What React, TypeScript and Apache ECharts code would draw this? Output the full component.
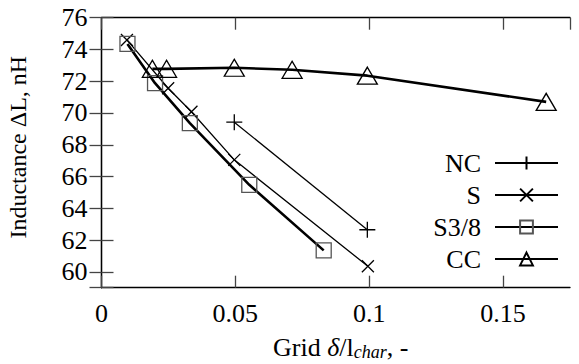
import React, { useEffect, useRef } from "react";
import * as echarts from "echarts";

const seriesNames = ["NC", "S", "S3/8", "CC"];
const ncData: number[][] = [
  [0.0496, 69.42],
  [0.0993, 62.65],
];
const sData: number[][] = [
  [0.0095, 74.6],
  [0.0249, 71.56],
  [0.0336, 70.08],
  [0.0496, 67.05],
  [0.0995, 60.35],
];
const s38Data: number[][] = [
  [0.0097, 74.35],
  [0.0200, 71.88],
  [0.0330, 69.36],
  [0.0552, 65.48],
  [0.0830, 61.35],
];
const ccData: number[][] = [
  [0.0190, 72.78],
  [0.0243, 72.78],
  [0.0496, 72.85],
  [0.0712, 72.72],
  [0.0993, 72.35],
  [0.1661, 70.7],
];
const xTicks = [0, 0.05, 0.1, 0.15];
const yTicks = [60, 62, 64, 66, 68, 70, 72, 74, 76];

const FONT = "'Liberation Serif', 'Times New Roman', serif";

const PLUS = "path://M0,5L10,5M5,0L5,10";
const CROSS = "path://M0,0L10,10M10,0L0,10";
const SQUARE = "path://M0,0L10,0L10,10L0,10Z";
const TRI = "path://M5,0L10,9L0,9Z";

export default function App() {
  const ref = useRef<HTMLDivElement>(null);
  useEffect(() => {
    if (!ref.current) return;
    const chart = echarts.init(ref.current, undefined, { renderer: "svg" });
    const mkSeries = (
      name: string,
      data: number[][],
      symbol: string,
      size: number | number[],
      lw: number,
      mcolor: string
    ) => ({
      name,
      type: "line",
      data,
      symbol,
      symbolSize: size,
      showAllSymbol: true,
      lineStyle: { color: "#000", width: lw },
      itemStyle: { color: "rgba(0,0,0,0)", borderColor: mcolor, borderWidth: 1.3 },
      emphasis: { disabled: true },
    });
    const commonAxisLine = { show: true, lineStyle: { color: "#000", width: 1.3 } };
    const tickStyle = { show: true, inside: true, length: 12, lineStyle: { color: "#444", width: 1.3 } };
    const txt = { fontFamily: FONT, fontSize: 26, color: "#000" };
    chart.setOption({
      animation: false,
      backgroundColor: "#fff",
      textStyle: { fontFamily: FONT },
      grid: {
        left: 101.5,
        right: 9,
        top: 17.7,
        bottom: 76.3,
        containLabel: false,
        outerBoundsMode: "none",
      },
      legend: {
        orient: "vertical",
        align: "right",
        right: 15,
        top: 145,
        itemWidth: 63,
        itemHeight: 16,
        itemGap: 6,
        data: seriesNames,
        textStyle: { ...txt, lineHeight: 26, padding: [0, 9, 0, 0] },
        selectedMode: false,
      },
      xAxis: [
        {
          type: "value",
          min: 0,
          max: 0.175,
          interval: 0.05,
          position: "bottom",
          axisLine: commonAxisLine,
          axisTick: tickStyle,
          splitLine: { show: false },
          axisLabel: {
            ...txt,
            margin: 13,
            showMaxLabel: false,
            formatter: (v: number) => (xTicks.some((t) => Math.abs(t - v) < 1e-9) ? String(+v.toFixed(3)) : ""),
          },
          name: "Grid {i|δ}/l{sub|char}, -",
          nameLocation: "middle",
          nameGap: 47,
          nameTextStyle: {
            ...txt,
            padding: [0, 0, 0, 10],
            rich: {
              i: { ...txt, fontStyle: "italic" },
              sub: { ...txt, fontSize: 18, fontStyle: "italic", padding: [8, 0, 0, 0] },
            },
          },
        },
        {
          type: "value",
          min: 0,
          max: 0.175,
          interval: 0.05,
          position: "top",
          axisLine: commonAxisLine,
          axisTick: tickStyle,
          splitLine: { show: false },
          axisLabel: { show: false },
        },
      ],
      yAxis: [
        {
          type: "value",
          min: 59,
          max: 76,
          splitNumber: 8,
          position: "left",
          axisLine: commonAxisLine,
          axisTick: tickStyle,
          splitLine: { show: false },
          axisLabel: {
            ...txt,
            margin: 14,
            formatter: (v: number) => (yTicks.includes(v) ? String(v) : ""),
          },
          name: "Inductance ΔL, nH",
          nameLocation: "middle",
          nameGap: 72,
          nameTextStyle: { ...txt, fontSize: 24, padding: [0, 0, 0, 11] },
        },
        {
          type: "value",
          min: 59,
          max: 76,
          splitNumber: 8,
          position: "right",
          axisLine: commonAxisLine,
          axisTick: tickStyle,
          splitLine: { show: false },
          axisLabel: { show: false },
        },
      ],
      series: [
        mkSeries("NC", ncData, PLUS, 16, 1.3, "#000"),
        mkSeries("S", sData, CROSS, 12, 1.3, "#000"),
        mkSeries("S3/8", s38Data, SQUARE, 15, 2.6, "#555"),
        mkSeries("CC", ccData, TRI, [20, 17], 2.6, "#000"),
      ],
    });
    return () => chart.dispose();
  }, []);
  return <div ref={ref} style={{ width: 579, height: 364, position: "absolute", left: 0, top: 0 }} />;
}
